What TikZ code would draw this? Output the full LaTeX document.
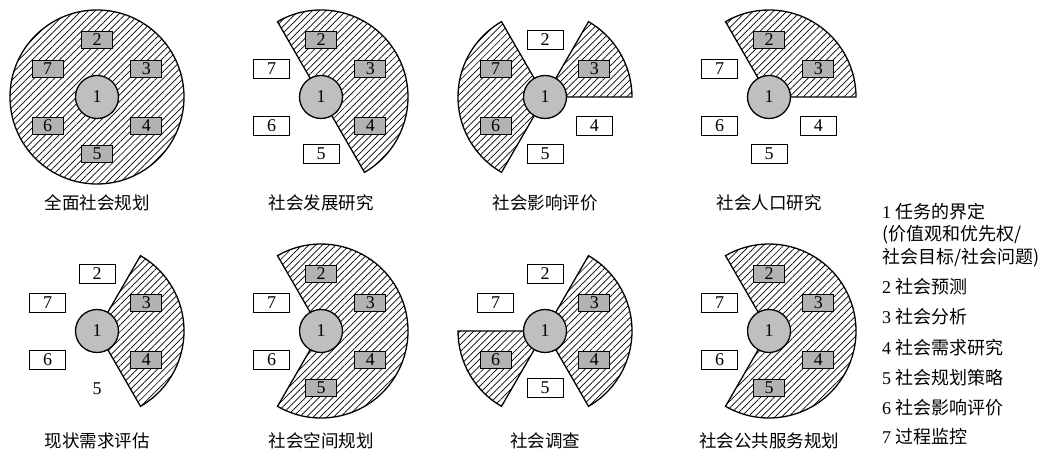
\documentclass[tikz,border=0pt]{standalone}
\usepackage{fontspec}
\setmainfont{Liberation Serif}
\newfontfamily\cjk{Noto Sans CJK SC}
\usetikzlibrary{patterns.meta}

\begin{document}
\begin{tikzpicture}[x=1pt, y=1pt, every node/.style={font=\fontsize{18}{20}\selectfont},
    sector/.style={draw, line width=1.3pt, pattern={Lines[angle=45, distance=4.8pt, line width=0.7pt]}},
    core/.style={circle, draw, line width=1.3pt, fill=gray!50, minimum size=43pt, inner sep=0pt},
    markbox/.style={draw, line width=0.8pt, fill=gray!60, minimum width=31pt, minimum height=17pt, inner sep=0pt},
    plainbox/.style={draw, line width=0.8pt, fill=white, minimum width=36pt, minimum height=19pt, inner sep=0pt},
    paneltitle/.style={font=\cjk\fontsize{17.5}{20}\selectfont},
    legend/.style={anchor=west, inner sep=0pt}]
    \useasboundingbox (0,0) rectangle (1052,452);

    % --- 全面社会规划 ---
    \coordinate (c1) at (97,355);
    \draw[sector] (c1) circle[radius=87pt];
    \node[core] (c1-1) at (c1) {1};
    \foreach \n/\a/\s in {2/90/markbox, 3/30/markbox, 4/-30/markbox, 5/-90/markbox, 6/-150/markbox, 7/150/markbox}
        \node[\s] (c1-\n) at ([shift={(\a:57pt)}]c1) {\n};
    \node[paneltitle] (t1) at (97,249) {全面社会规划};

    % --- 社会发展研究 ---
    \coordinate (c2) at (321,355);
    \draw[sector] (c2) -- ++(-60:87pt) arc[start angle=-60, end angle=120, radius=87pt] -- cycle;
    \node[core] (c2-1) at (c2) {1};
    \foreach \n/\a/\s in {2/90/markbox, 3/30/markbox, 4/-30/markbox, 5/-90/plainbox, 6/-150/plainbox, 7/150/plainbox}
        \node[\s] (c2-\n) at ([shift={(\a:57pt)}]c2) {\n};
    \node[paneltitle] (t2) at (321,249) {社会发展研究};

    % --- 社会影响评价 ---
    \coordinate (c3) at (545,355);
    \draw[sector] (c3) -- ++(0:87pt) arc[start angle=0, end angle=60, radius=87pt] -- cycle;
    \draw[sector] (c3) -- ++(120:87pt) arc[start angle=120, end angle=240, radius=87pt] -- cycle;
    \node[core] (c3-1) at (c3) {1};
    \foreach \n/\a/\s in {2/90/plainbox, 3/30/markbox, 4/-30/plainbox, 5/-90/plainbox, 6/-150/markbox, 7/150/markbox}
        \node[\s] (c3-\n) at ([shift={(\a:57pt)}]c3) {\n};
    \node[paneltitle] (t3) at (545,249) {社会影响评价};

    % --- 社会人口研究 ---
    \coordinate (c4) at (769,355);
    \draw[sector] (c4) -- ++(0:87pt) arc[start angle=0, end angle=120, radius=87pt] -- cycle;
    \node[core] (c4-1) at (c4) {1};
    \foreach \n/\a/\s in {2/90/markbox, 3/30/markbox, 4/-30/plainbox, 5/-90/plainbox, 6/-150/plainbox, 7/150/plainbox}
        \node[\s] (c4-\n) at ([shift={(\a:57pt)}]c4) {\n};
    \node[paneltitle] (t4) at (769,249) {社会人口研究};

    % --- 现状需求评估 ---
    \coordinate (c5) at (97,121);
    \draw[sector] (c5) -- ++(-60:87pt) arc[start angle=-60, end angle=60, radius=87pt] -- cycle;
    \node[core] (c5-1) at (c5) {1};
    \foreach \n/\a/\s in {2/90/plainbox, 3/30/markbox, 4/-30/markbox, 6/-150/plainbox, 7/150/plainbox}
        \node[\s] (c5-\n) at ([shift={(\a:57pt)}]c5) {\n};
    \node (c5-5) at ([shift={(-90:58pt)}]c5) {5}; % no box here
    \node[paneltitle] (t5) at (97,11) {现状需求评估};

    % --- 社会空间规划 ---
    \coordinate (c6) at (321,121);
    \draw[sector] (c6) -- ++(-120:87pt) arc[start angle=-120, end angle=120, radius=87pt] -- cycle;
    \node[core] (c6-1) at (c6) {1};
    \foreach \n/\a/\s in {2/90/markbox, 3/30/markbox, 4/-30/markbox, 5/-90/markbox, 6/-150/plainbox, 7/150/plainbox}
        \node[\s] (c6-\n) at ([shift={(\a:57pt)}]c6) {\n};
    \node[paneltitle] (t6) at (321,11) {社会空间规划};

    % --- 社会调查 ---
    \coordinate (c7) at (545,121);
    \draw[sector] (c7) -- ++(-60:87pt) arc[start angle=-60, end angle=60, radius=87pt] -- cycle;
    \draw[sector] (c7) -- ++(180:87pt) arc[start angle=180, end angle=240, radius=87pt] -- cycle;
    \node[core] (c7-1) at (c7) {1};
    \foreach \n/\a/\s in {2/90/plainbox, 3/30/markbox, 4/-30/markbox, 5/-90/plainbox, 6/-150/markbox, 7/150/plainbox}
        \node[\s] (c7-\n) at ([shift={(\a:57pt)}]c7) {\n};
    \node[paneltitle] (t7) at (545,11) {社会调查};

    % --- 社会公共服务规划 ---
    \coordinate (c8) at (769,121);
    \draw[sector] (c8) -- ++(-120:87pt) arc[start angle=-120, end angle=120, radius=87pt] -- cycle;
    \node[core] (c8-1) at (c8) {1};
    \foreach \n/\a/\s in {2/90/markbox, 3/30/markbox, 4/-30/markbox, 5/-90/markbox, 6/-150/plainbox, 7/150/plainbox}
        \node[\s] (c8-\n) at ([shift={(\a:57pt)}]c8) {\n};
    \node[paneltitle] (t8) at (769,11) {社会公共服务规划};

    % --- Legend ---
    \node[legend] (leg1) at (882,240) {1 {\cjk 任务的界定}};
    \node[legend, font=\cjk\fontsize{18}{20}\selectfont] (leg1a) at (882,217) {(价值观和优先权/};
    \node[legend, font=\cjk\fontsize{18}{20}\selectfont] (leg1b) at (882,194) {社会目标/社会问题)};
    \node[legend] (leg2) at (882,165) {2 {\cjk 社会预测}};
    \node[legend] (leg3) at (882,135) {3 {\cjk 社会分析}};
    \node[legend] (leg4) at (882,104) {4 {\cjk 社会需求研究}};
    \node[legend] (leg5) at (882,74) {5 {\cjk 社会规划策略}};
    \node[legend] (leg6) at (882,44) {6 {\cjk 社会影响评价}};
    \node[legend] (leg7) at (882,15) {7 {\cjk 过程监控}};
\end{tikzpicture}
\end{document}
